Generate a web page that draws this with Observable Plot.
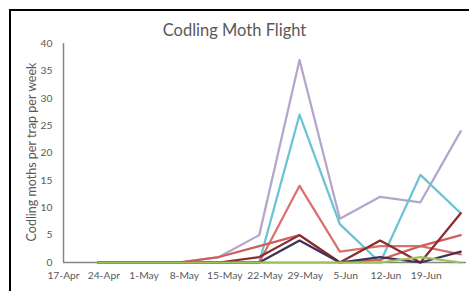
<!DOCTYPE html>
<html>
<head>
<meta charset="utf-8">
<script src="https://cdn.jsdelivr.net/npm/d3@7"></script>
<script src="https://cdn.jsdelivr.net/npm/@observablehq/plot@0.6"></script>
<style>
  html, body { margin: 0; padding: 0; background: #fff; overflow: hidden; }
  #wrap { position: relative; width: 469px; height: 291px; }
  #frame { position: absolute; left: 9px; top: 9px; width: 1000px; height: 1000px;
           border-left: 2px solid #000; border-top: 2px solid #000; box-sizing: border-box; }
  #title { position: absolute; left: 0; width: 469px; top: 20px; text-align: center;
           font-family: Lato, sans-serif; font-size: 16.5px; color: #595959; }
  svg { position: absolute; left: 0; top: 0; }
</style>
</head>
<body>
<div id="wrap"><div id="frame"></div><div id="title">Codling Moth Flight</div></div>
<script>
// Sample dates (weekly trap checks)
const dates = ["2017-04-23","2017-04-30","2017-05-07","2017-05-14","2017-05-21",
               "2017-05-28","2017-06-04","2017-06-11","2017-06-18","2017-06-25"];
// Axis tick labels
const tickDates = ["2017-04-17","2017-04-24","2017-05-01","2017-05-08","2017-05-15",
                   "2017-05-22","2017-05-29","2017-06-05","2017-06-12","2017-06-19"];
const yTicks = [0, 5, 10, 15, 20, 25, 30, 35, 40];

// Series values (moths per trap per week)
const lavender = [0, 0, 0, 1, 5, 37, 8, 12, 11, 24];
const cyan     = [0, 0, 0, 0, 0, 27, 7, 0, 16, 9];
const lightRed = [0, 0, 0, 0, 0, 14, 2, 3, 3, 1.5];
const red      = [0, 0, 0, 1, 3, 5, 0, 0.5, 3, 5];
const darkRed  = [0, 0, 0, 0, 1, 5, 0, 4, 0, 9];
const navy     = [0, 0, 0, 0, 0, 4, 0, 1, 0, 2];
const green    = [0, 0, 0, 0, 0, 0, 0, 0, 1, 0];

const seriesNames = ["lavender","cyan","lightRed","red","darkRed","navy","green"];
const seriesValues = [lavender, cyan, lightRed, red, darkRed, navy, green];
const seriesColors = ["#b5a5cc","#6cc2d5","#d9716e","#cf5f5c","#8b2d2d","#3f3157","#9bc35a"];

const table = [];
seriesNames.forEach((name, i) => {
  seriesValues[i].forEach((v, j) => table.push({series: name, date: new Date(dates[j]), value: v}));
});

const start = new Date("2017-04-17");
const end = new Date("2017-06-26");

const chart = Plot.plot({
  width: 469,
  height: 291,
  marginLeft: 63,
  marginTop: 43,
  marginBottom: 29,
  marginRight: 3,
  style: {fontFamily: "Lato, sans-serif", fontSize: "10.3px", color: "#595959", background: "transparent"},
  x: {type: "utc", domain: [start, end]},
  y: {domain: [0, 40]},
  color: {domain: seriesNames, range: seriesColors},
  marks: [
    Plot.axisX({ticks: tickDates.map(d => new Date(d)), tickFormat: d3.utcFormat("%-d-%b"),
                tickSize: 0, tickPadding: 9, label: null, fill: "#595959"}),
    Plot.axisY({ticks: yTicks, tickSize: 0, tickPadding: 11, label: null, fill: "#595959"}),
    Plot.text(["Codling moths per trap per week"], {frameAnchor: "left", textAnchor: "middle",
                dx: -32, dy: -1, rotate: -90, fontSize: 12.5, fill: "#595959"}),
    Plot.ruleX([start], {stroke: "#868686", strokeWidth: 1.5}),
    Plot.ruleY([0], {stroke: "#868686", strokeWidth: 1.5}),
    Plot.lineY(table, {x: "date", y: "value", z: "series", stroke: "series", strokeWidth: 2.25})
  ]
});
document.getElementById("wrap").appendChild(chart);
</script>
</body>
</html>
